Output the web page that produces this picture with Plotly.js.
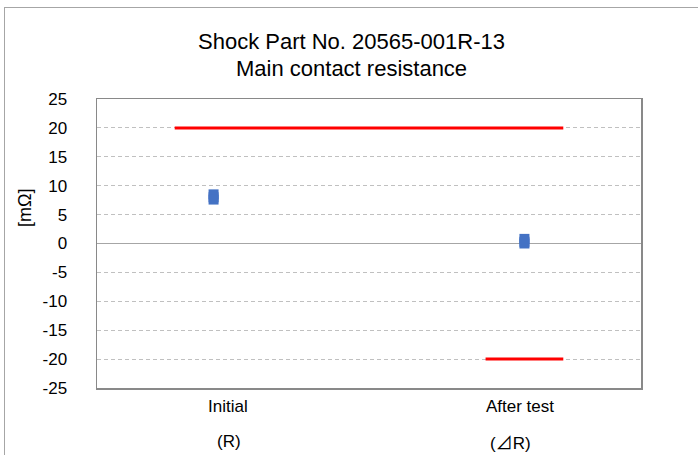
<!DOCTYPE html>
<html>
<head>
<meta charset="utf-8">
<script src="https://cdn.plot.ly/plotly-3.0.1.min.js"></script>
<style>
  html, body { margin: 0; padding: 0; background: #fff; }
  #wrap { position: relative; width: 698px; height: 455px; overflow: hidden; }
  #chart { width: 698px; height: 455px; }
  #frame { position: absolute; left: 4px; top: 7px; width: 720px; height: 480px;
           border-left: 1px solid #A6A6A6; border-top: 1px solid #A6A6A6; pointer-events: none; }
</style>
</head>
<body>
<div id="wrap"><div id="chart"></div><div id="frame"></div></div>
<script>
// Data
const categories = ["Initial", "After test"];
const categorySubLabels = ["(R)", "(<span style=\"font-family:'Noto Sans CJK JP'\">\u22BF</span>R)"];
const categoryX = [1.5, 5.5];
const initialValues = [8.5, 8.0, 7.6];
const afterTestValues = [0.8, 0.3, 0.0];
const upperLimitX = [1, 6];
const upperLimitY = [20, 20];
const lowerLimitX = [5, 6];
const lowerLimitY = [-20, -20];
const yTicks = [-25, -20, -15, -10, -5, 0, 5, 10, 15, 20, 25];

// label placement (layout only)
const labelX = [1.69, 5.44];
const subLabelX = [1.70, 5.32];

const FONT = "'Liberation Sans', Arial, sans-serif";

const traces = [
  { x: upperLimitX, y: upperLimitY, type: 'scatter', mode: 'lines',
    line: { color: '#FF0000', width: 3 }, hoverinfo: 'skip' },
  { x: lowerLimitX, y: lowerLimitY, type: 'scatter', mode: 'lines',
    line: { color: '#FF0000', width: 3 }, hoverinfo: 'skip' },
  { x: initialValues.map(() => categoryX[0]), y: initialValues, type: 'scatter', mode: 'markers',
    marker: { symbol: 'square', size: 10, color: '#4472C4' } },
  { x: afterTestValues.map(() => categoryX[1]), y: afterTestValues, type: 'scatter', mode: 'markers',
    marker: { symbol: 'square', size: 10, color: '#4472C4' } }
];

const plotTop = 99, plotBottom = 388;
const pyToPaper = py => (plotBottom - py) / (plotBottom - plotTop);
const annotations = [];
categories.forEach((c, i) => {
  annotations.push({ x: labelX[i], xref: 'x', y: pyToPaper(407), yref: 'paper', text: c, showarrow: false,
    font: { family: FONT, size: 17, color: '#000' }, yanchor: 'middle' });
  annotations.push({ x: subLabelX[i], xref: 'x', y: pyToPaper(441), yref: 'paper', text: categorySubLabels[i], showarrow: false,
    font: { family: FONT, size: 17, color: '#000' }, yanchor: 'middle' });
});
annotations.push({ text: '[m\u03A9]', textangle: -90, showarrow: false,
  xref: 'paper', yref: 'paper', x: (25 - 97) / 544, y: pyToPaper(208),
  xanchor: 'center', yanchor: 'middle', font: { family: FONT, size: 18, color: '#000' } });
annotations.push({ text: 'Shock Part No. 20565-001R-13', showarrow: false,
  xref: 'paper', yref: 'paper', x: (351 - 97) / 544, y: pyToPaper(41),
  xanchor: 'center', yanchor: 'middle', font: { family: FONT, size: 22, color: '#000' } });
annotations.push({ text: 'Main contact resistance', showarrow: false,
  xref: 'paper', yref: 'paper', x: (351 - 97) / 544, y: pyToPaper(69),
  xanchor: 'center', yanchor: 'middle', font: { family: FONT, size: 22, color: '#000' } });

const layout = {
  width: 698, height: 455,
  margin: { l: 97, r: 57, t: 99, b: 67, pad: 0 },
  paper_bgcolor: '#fff', plot_bgcolor: '#fff',
  showlegend: false,
  xaxis: { range: [0, 7], showgrid: false, zeroline: false, showticklabels: false, ticks: '',
    showline: true, mirror: true, linecolor: '#898989', linewidth: 1.5, fixedrange: true },
  yaxis: { range: [-25, 25], tickvals: yTicks, ticktext: yTicks.map(String),
    showgrid: true, gridcolor: '#C0C0C0', griddash: '4px,3px', gridwidth: 1,
    zeroline: true, zerolinecolor: '#A6A6A6', zerolinewidth: 1.5,
    showline: true, mirror: true, linecolor: '#898989', linewidth: 1.5,
    ticks: '', ticklabelstandoff: 25,
    tickfont: { family: FONT, size: 17, color: '#000' }, fixedrange: true },
  annotations: annotations
};

Plotly.newPlot('chart', traces, layout, { displayModeBar: false, staticPlot: true });
</script>
</body>
</html>
